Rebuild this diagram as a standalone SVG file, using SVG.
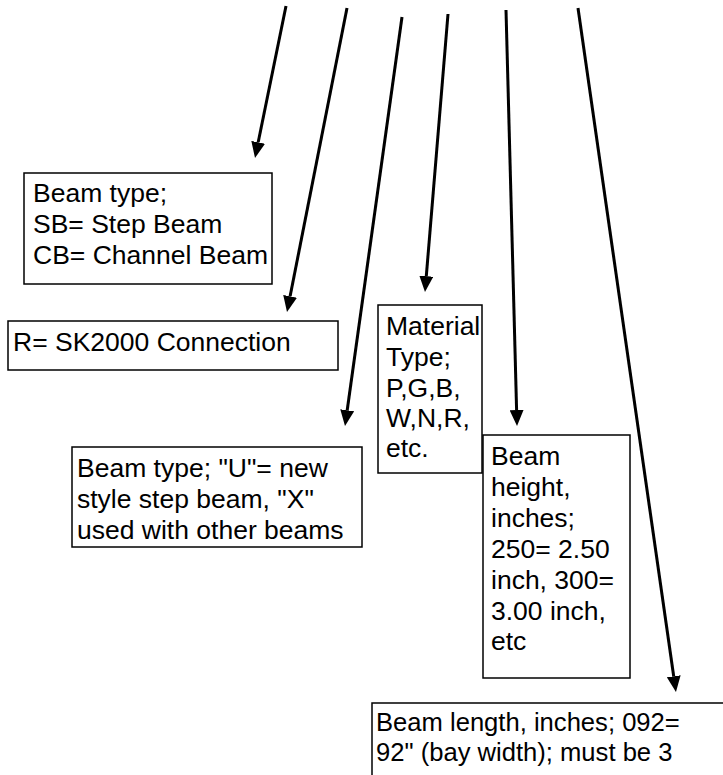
<svg xmlns="http://www.w3.org/2000/svg" width="723" height="775" viewBox="0 0 723 775">
<style>
.box{fill:#fff;stroke:#000;stroke-width:1.5}
.t{font-family:"Liberation Sans",Arial,sans-serif;font-size:26.5px;fill:#000}
.s{font-size:25.6px}
.c{stroke:#000;stroke-width:3;fill:none;marker-end:url(#ah)}
</style>
<defs>
<marker id="ah" markerUnits="userSpaceOnUse" viewBox="0 0 16 14" refX="0" refY="7" markerWidth="16" markerHeight="14" orient="auto">
<path d="M0,0 L16,7 L0,14 Z" fill="#000"/>
</marker>
</defs>
<rect width="723" height="775" fill="#fff"/>
<g id="connectors">
<line class="c" x1="286" y1="6" x2="258.2" y2="142.3"/>
<line class="c" x1="347" y1="8" x2="290.1" y2="296.3"/>
<line class="c" x1="402" y1="17" x2="347.2" y2="410.2"/>
<line class="c" x1="448" y1="14" x2="426.3" y2="276.1"/>
<line class="c" x1="506" y1="10" x2="516.6" y2="410"/>
<line class="c" x1="578" y1="8" x2="673.7" y2="676.2"/>
</g>
<g id="beam-type">
<rect class="box" x="24" y="173" width="248" height="111"/>
<text class="t" x="33" y="202">Beam type;</text>
<text class="t" x="33" y="233">SB= Step Beam</text>
<text class="t" x="33" y="264">CB= Channel Beam</text>
</g>
<g id="connection">
<rect class="box" x="8" y="321" width="330" height="49"/>
<text class="t" x="13" y="351">R= SK2000 Connection</text>
</g>
<g id="beam-style">
<rect class="box" x="72" y="447" width="290" height="100"/>
<text class="t" x="77" y="477">Beam type; "U"= new</text>
<text class="t" x="77" y="508">style step beam, "X"</text>
<text class="t" x="77" y="539">used with other beams</text>
</g>
<g id="material">
<rect class="box" x="378" y="305" width="104" height="168"/>
<text class="t" x="386" y="335">Material</text>
<text class="t" x="386" y="366">Type;</text>
<text class="t" x="386" y="397">P,G,B,</text>
<text class="t" x="386" y="427">W,N,R,</text>
<text class="t" x="386" y="457">etc.</text>
</g>
<g id="beam-height">
<rect class="box" x="483" y="435" width="147" height="243"/>
<text class="t" x="491" y="465">Beam</text>
<text class="t" x="491" y="496">height,</text>
<text class="t" x="491" y="527">inches;</text>
<text class="t" x="491" y="558">250= 2.50</text>
<text class="t" x="491" y="589">inch, 300=</text>
<text class="t" x="491" y="620">3.00 inch,</text>
<text class="t" x="491" y="650">etc</text>
</g>
<g id="beam-length">
<rect class="box" x="372" y="703" width="380" height="100"/>
<text class="t s" x="376" y="731">Beam length, inches; 092=</text>
<text class="t s" x="376" y="761">92" (bay width); must be 3</text>
</g>
</svg>
